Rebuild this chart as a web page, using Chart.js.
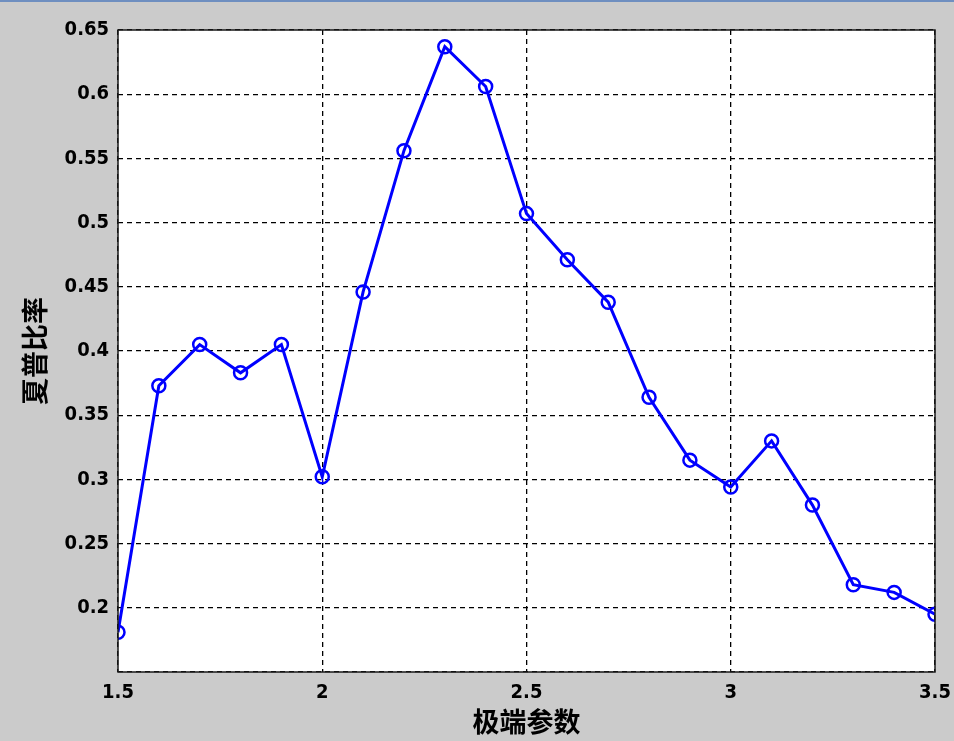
<!DOCTYPE html>
<html>
<head>
<meta charset="utf-8">
<script src="https://cdn.jsdelivr.net/npm/chart.js@4"></script>
<style>
  html, body { margin: 0; padding: 0; background: #cbcbcb; }
  #wrap { width: 954px; height: 741px; }
</style>
</head>
<body>
<div id="wrap"><canvas id="c" width="954" height="741"></canvas></div>
<script>
// x values (极端参数) and sharpe ratios
const xValues = [1.5, 1.6, 1.7, 1.8, 1.9, 2.0, 2.1, 2.2, 2.3, 2.4, 2.5,
                 2.6, 2.7, 2.8, 2.9, 3.0, 3.1, 3.2, 3.3, 3.4, 3.5];
const sharpe = [0.181, 0.373, 0.405, 0.383, 0.405, 0.302, 0.446, 0.556, 0.637, 0.606, 0.507,
                0.471, 0.438, 0.364, 0.315, 0.294, 0.330, 0.280, 0.218, 0.212, 0.195];
const xTitle = "极端参数";
const yTitle = "夏普比率";

const tickFont = { family: "'DejaVu Sans Condensed', 'Liberation Sans Narrow', 'Liberation Sans', Arial", size: 20, weight: "bold" };
const titleFont = { family: "'Noto Sans CJK SC', sans-serif", size: 27, weight: "bold" };

// white plot area, box border and the thin blue window edge at top
const frame = {
  id: "frame",
  beforeDraw(chart) {
    const { ctx, chartArea: a } = chart;
    ctx.save();
    ctx.fillStyle = "#6f8fc0";
    ctx.fillRect(0, 0, chart.width, 2);
    ctx.fillStyle = "#ffffff";
    ctx.fillRect(a.left, a.top, a.right - a.left, a.bottom - a.top);
    ctx.restore();
  },
  afterDatasetsDraw(chart) {
    const { ctx, chartArea: a } = chart;
    ctx.save();
    ctx.strokeStyle = "#1a1a1a";
    ctx.lineWidth = 1.5;
    ctx.strokeRect(a.left, a.top, a.right - a.left, a.bottom - a.top);
    ctx.restore();
  },
};

new Chart(document.getElementById("c"), {
  type: "line",
  data: {
    datasets: [{
      data: xValues.map((x, i) => ({ x, y: sharpe[i] })),
      borderColor: "#0000ff",
      borderWidth: 3,
      pointRadius: 6.5,
      pointBorderWidth: 2.5,
      pointBackgroundColor: "rgba(0,0,0,0)",
      pointBorderColor: "#0000ff",
      tension: 0,
    }],
  },
  options: {
    responsive: false,
    animation: false,
    layout: { padding: { top: 30, right: 0, left: 0, bottom: 0 } },
    plugins: { legend: { display: false }, tooltip: { enabled: false } },
    scales: {
      x: {
        type: "linear",
        min: 1.5, max: 3.5,
        ticks: { stepSize: 0.5, color: "#000", font: tickFont, padding: 9, maxRotation: 0,
                 callback: (v) => String(+v.toFixed(1)) },
        grid: { color: "#000", drawTicks: false, lineWidth: 1.3 },
        border: { display: false, dash: [5, 4] },
        title: { display: true, text: xTitle, color: "#000", font: titleFont, padding: { top: 0, bottom: 3 } },
        afterFit(s) { s.height = 69; s.paddingRight = 19; },
      },
      y: {
        min: 0.15, max: 0.65,
        ticks: { stepSize: 0.05, color: "#000", font: tickFont, padding: 9,
                 callback: (v) => (Math.abs(v - 0.15) < 1e-6 ? "" : String(+v.toFixed(2))) },
        grid: { color: "#000", drawTicks: false, lineWidth: 1.3 },
        border: { display: false, dash: [5, 4] },
        title: { display: true, text: yTitle, color: "#000", font: titleFont, padding: { top: 19, bottom: 0 } },
        afterFit(s) { s.width = 118; },
      },
    },
  },
  plugins: [frame],
});
</script>
</body>
</html>
